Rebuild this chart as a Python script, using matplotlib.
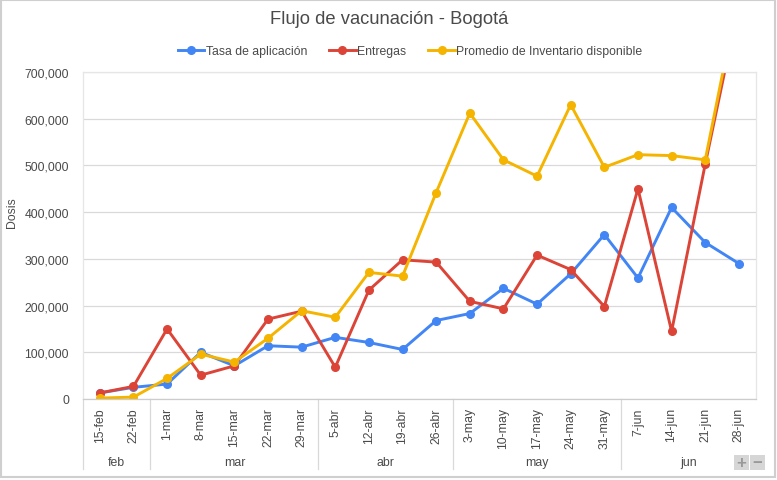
import matplotlib
matplotlib.use("Agg")
import matplotlib.pyplot as plt
from matplotlib.patches import Rectangle
from matplotlib.ticker import FuncFormatter, MultipleLocator

# Weekly data
semanas = ["15-feb", "22-feb", "1-mar", "8-mar", "15-mar", "22-mar", "29-mar",
           "5-abr", "12-abr", "19-abr", "26-abr", "3-may", "10-may", "17-may",
           "24-may", "31-may", "7-jun", "14-jun", "21-jun", "28-jun"]
meses = ["feb", "mar", "abr", "may", "jun"]
semanas_por_mes = [2, 5, 4, 5, 4]

tasa = [13000, 25000, 32000, 100000, 71000, 114000, 111000, 132000, 121000, 106000,
        168000, 183000, 237000, 203000, 268000, 352000, 259000, 410000, 335000, 290000]
entregas = [13000, 27000, 150000, 51000, 71000, 171000, 188000, 68000, 233000, 298000,
            293000, 209000, 193000, 308000, 277000, 198000, 450000, 145000, 503000, 845000]
inventario = [2000, 4000, 44000, 96000, 79000, 130000, 189000, 175000, 271000, 263000,
              442000, 612000, 512000, 477000, 630000, 496000, 523000, 521000, 512000, 870000]

series = [("Tasa de aplicación", tasa, "#4285F4"),
          ("Entregas", entregas, "#DB4437"),
          ("Promedio de Inventario disponible", inventario, "#F4B400")]

plt.rcParams['font.family'] = ['Liberation Sans', 'DejaVu Sans']
txt = "#4a4a4a"
W, H = 777, 481

fig = plt.figure(figsize=(W / 100, H / 100), dpi=100)
ax = fig.add_axes([83 / W, 1 - 400 / H, (755.7 - 83) / W, (400 - 73) / H])

x = list(range(len(semanas)))
for nombre, vals, color in series:
    ax.plot(x, vals, color=color, lw=2.1, marker='o', ms=5.5, label=nombre,
            solid_joinstyle='round')

ax.set_xlim(-0.5, len(semanas) - 0.5)
ax.set_ylim(0, 700000)
ax.yaxis.set_major_locator(MultipleLocator(100000))
ax.yaxis.set_major_formatter(FuncFormatter(lambda v, p: f"{int(v):,}"))
ax.grid(axis='y', color='#d9d9d9', lw=0.9)
ax.set_axisbelow(True)
for s in ['left', 'right', 'top']:
    ax.spines[s].set_color('#e6e6e6')
    ax.spines[s].set_linewidth(0.9)
ax.spines['bottom'].set_color('#cccccc')
ax.spines['bottom'].set_linewidth(0.9)

ax.set_xticks(x)
ax.set_xticklabels(semanas, rotation=90, fontsize=8.8, color=txt)
ax.tick_params(axis='x', length=0, pad=6)
ax.tick_params(axis='y', length=0, pad=10, labelsize=8.8, labelcolor=txt)
ax.set_ylabel("Dosis", fontsize=8.8, color=txt)
ax.yaxis.set_label_coords((18 - 83) / (755.7 - 83), (400 - 213) / (400 - 73))

# month group labels and separators under the axis
axh = 400 - 73
inicio = 0
bordes = [-0.5]
for mes, n in zip(meses, semanas_por_mes):
    centro = inicio + (n - 1) / 2
    ax.text(centro, -(463 - 400) / axh, mes, transform=ax.get_xaxis_transform(),
            ha='center', va='center', fontsize=8.8, color=txt)
    inicio += n
    bordes.append(inicio - 0.5)
for b in bordes[:-1]:
    ax.plot([b, b], [0, -(470 - 400) / axh], transform=ax.get_xaxis_transform(),
            color='#d9d9d9', lw=0.9, clip_on=False)

fig.text(389 / W, 1 - 20 / H, "Flujo de vacunación - Bogotá", ha='center', va='center',
         fontsize=13.2, color=txt)
fig.legend(loc='center', bbox_to_anchor=(410 / W, 1 - 52 / H), ncol=3, frameon=False,
           fontsize=8.8, handlelength=2.2, handletextpad=0.1, columnspacing=1.8,
           labelcolor=txt)

# outer border and zoom buttons
fig.patches.append(Rectangle((1 / W, 3 / H), 774 / W, 1 - 4 / H, transform=fig.transFigure,
                             fill=False, edgecolor='#cfcfcf', lw=1.5))
for x0, sym in [(734, "+"), (750, "−")]:
    fig.patches.append(Rectangle((x0 / W, 1 - 471 / H), 15 / W, 15 / H,
                                 transform=fig.transFigure, facecolor='#d6d6d6',
                                 edgecolor='none'))
    fig.text((x0 + 7.5) / W, 1 - 463.5 / H, sym, ha='center', va='center',
             fontsize=12, fontweight='bold', color='#999999')

fig.savefig("out.png", dpi=100)
